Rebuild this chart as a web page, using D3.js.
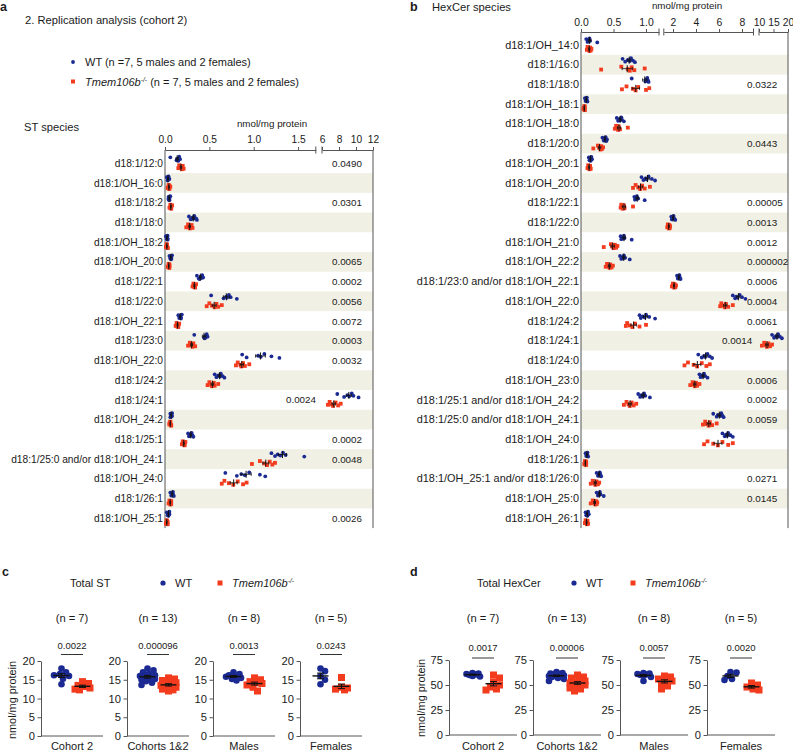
<!DOCTYPE html>
<html><head><meta charset="utf-8">
<script src="https://cdn.jsdelivr.net/npm/d3@7"></script>
<style>
body{margin:0;background:#fff}
svg{display:block}
text{font-family:"Liberation Sans",Arial,Helvetica,sans-serif;fill:#1a1a1a}
</style>
</head><body>
<svg id="fig" width="793" height="751"></svg>
<script>
// ---------------- DATA ----------------
const stSpecies = ["d18:1/12:0","d18:1/OH_16:0","d18:1/18:2","d18:1/18:0","d18:1/OH_18:2","d18:1/OH_20:0","d18:1/22:1","d18:1/22:0","d18:1/OH_22:1","d18:1/23:0","d18:1/OH_22:0","d18:1/24:2","d18:1/24:1","d18:1/OH_24:2","d18:1/25:1","d18:1/25:0 and/or d18:1/OH_24:1","d18:1/OH_24:0","d18:1/26:1","d18:1/OH_25:1"];
const stWT = [
 [0.06,0.13,0.14,0.15,0.16,0.17,0.15],
 [0.02,0.03,0.03,0.04,0.04,0.05,0.03],
 [0.04,0.04,0.05,0.05,0.06,0.04,0.05],
 [0.27,0.29,0.31,0.32,0.33,0.35,0.36],
 [0.01,0.02,0.02,0.03,0.03,0.02,0.03],
 [0.05,0.06,0.07,0.07,0.08,0.06,0.07],
 [0.36,0.38,0.40,0.41,0.42,0.43,0.39],
 [0.52,0.66,0.69,0.70,0.72,0.74,0.81],
 [0.15,0.16,0.17,0.18,0.19,0.17,0.18],
 [0.33,0.44,0.45,0.46,0.47,0.48,0.45],
 [0.87,0.92,1.05,1.08,1.12,1.20,1.29],
 [0.56,0.58,0.60,0.62,0.63,0.65,0.67],
 [7.8,8.6,9.0,9.2,9.5,9.7,10.3],
 [0.06,0.07,0.07,0.08,0.08,0.07,0.06],
 [0.26,0.27,0.28,0.29,0.30,0.31,0.32],
 [1.20,1.24,1.27,1.30,1.33,1.36,1.57],
 [0.68,0.81,0.86,0.90,0.95,1.07,1.13],
 [0.06,0.07,0.08,0.08,0.09,0.09,0.10],
 [0.02,0.03,0.04,0.04,0.05,0.05,0.04]
];
const stKO = [
 [0.15,0.16,0.18,0.19,0.20,0.21,0.17],
 [0.03,0.04,0.04,0.05,0.05,0.04,0.06],
 [0.05,0.06,0.07,0.07,0.08,0.06,0.07],
 [0.24,0.26,0.27,0.28,0.30,0.31,0.29],
 [0.01,0.02,0.02,0.03,0.02,0.03,0.02],
 [0.03,0.04,0.04,0.05,0.05,0.04,0.05],
 [0.31,0.32,0.33,0.34,0.35,0.33,0.34],
 [0.47,0.50,0.53,0.56,0.58,0.60,0.64],
 [0.12,0.13,0.14,0.15,0.16,0.14,0.15],
 [0.26,0.28,0.30,0.31,0.32,0.34,0.29],
 [0.80,0.82,0.85,0.86,0.88,0.90,0.95],
 [0.48,0.50,0.52,0.53,0.55,0.56,0.60],
 [6.7,6.9,7.1,7.3,7.6,7.9,8.2],
 [0.05,0.06,0.06,0.07,0.06,0.07,0.05],
 [0.19,0.20,0.21,0.22,0.23,0.22,0.21],
 [0.98,1.07,1.12,1.15,1.18,1.21,1.24],
 [0.64,0.67,0.72,0.77,0.82,0.88,0.92],
 [0.04,0.05,0.06,0.06,0.07,0.07,0.06],
 [0.01,0.02,0.02,0.03,0.02,0.01,0.03]
];
const stP = ["0.0490","","0.0301","","","0.0065","0.0002","0.0056","0.0072","0.0003","0.0032","","0.0024","","0.0002","0.0048","","","0.0026"];
const stTicks = [[0,0.5,1.0,1.5],[6,8,10,12]];
const stSegments = [[0,1.7],[6,12]];

const hexSpecies = ["d18:1/OH_14:0","d18:1/16:0","d18:1/18:0","d18:1/OH_18:1","d18:1/OH_18:0","d18:1/20:0","d18:1/OH_20:1","d18:1/OH_20:0","d18:1/22:1","d18:1/22:0","d18:1/OH_21:0","d18:1/OH_22:2","d18:1/23:0 and/or d18:1/OH_22:1","d18:1/OH_22:0","d18:1/24:2","d18:1/24:1","d18:1/24:0","d18:1/OH_23:0","d18:1/25:1 and/or d18:1/OH_24:2","d18:1/25:0 and/or d18:1/OH_24:1","d18:1/OH_24:0","d18:1/26:1","d18:1/OH_25:1 and/or d18:1/26:0","d18:1/OH_25:0","d18:1/OH_26:1"];
const hexWT = [
 [0.08,0.10,0.11,0.12,0.13,0.14,0.25],
 [0.64,0.68,0.72,0.75,0.77,0.80,0.83],
 [0.78,0.99,1.00,1.01,1.02,1.03,1.04],
 [0.06,0.07,0.08,0.08,0.09,0.09,0.10],
 [0.55,0.57,0.59,0.60,0.62,0.63,0.66],
 [0.33,0.35,0.36,0.37,0.38,0.40,0.39],
 [0.12,0.13,0.14,0.15,0.16,0.17,0.15],
 [0.93,0.96,0.99,1.01,1.04,1.09,1.14],
 [0.82,0.83,0.84,0.85,0.86,0.88,0.98],
 [1.85,1.90,1.95,2.00,2.05,2.10,2.20],
 [0.61,0.62,0.64,0.65,0.66,0.67,0.78],
 [0.60,0.62,0.64,0.65,0.66,0.68,0.75],
 [2.35,2.42,2.48,2.52,2.56,2.60,2.66],
 [7.2,7.4,7.5,7.6,7.8,8.0,8.3],
 [0.90,0.92,0.95,0.98,1.00,1.05,1.14],
 [14.5,15.2,15.8,16.2,16.6,17.2,17.9],
 [4.2,4.5,4.7,4.8,5.0,5.2,5.4],
 [4.3,4.4,4.5,4.6,4.7,4.8,5.0],
 [0.88,0.91,0.93,0.95,0.97,0.99,1.06],
 [5.5,5.8,5.9,6.1,6.2,6.3,6.4],
 [6.3,6.5,6.6,6.7,6.8,7.0,7.2],
 [0.07,0.08,0.09,0.09,0.10,0.10,0.11],
 [0.24,0.26,0.27,0.28,0.29,0.30,0.31],
 [0.24,0.26,0.27,0.28,0.29,0.30,0.35],
 [0.07,0.08,0.09,0.10,0.11,0.12,0.10]
];
const hexKO = [
 [0.09,0.10,0.12,0.13,0.14,0.15,0.16],
 [0.31,0.62,0.72,0.75,0.78,0.82,0.98],
 [0.63,0.70,0.80,0.84,0.88,1.00,1.05],
 [0.04,0.05,0.05,0.06,0.06,0.05,0.04],
 [0.52,0.54,0.56,0.57,0.58,0.60,0.72],
 [0.19,0.26,0.28,0.30,0.31,0.32,0.34],
 [0.10,0.11,0.12,0.13,0.14,0.15,0.13],
 [0.80,0.84,0.88,0.91,0.94,0.98,1.06],
 [0.61,0.62,0.63,0.64,0.66,0.67,0.80],
 [1.50,1.55,1.60,1.65,1.68,1.72,1.75],
 [0.35,0.46,0.48,0.50,0.52,0.54,0.56],
 [0.38,0.40,0.42,0.44,0.45,0.47,0.49],
 [1.90,1.98,2.05,2.10,2.15,2.20,2.26],
 [6.1,6.2,6.4,6.5,6.6,6.8,7.2],
 [0.69,0.71,0.75,0.79,0.83,0.90,1.00],
 [11.0,11.8,12.3,12.7,13.2,13.8,14.5],
 [3.0,3.3,3.8,4.1,4.5,4.9,5.2],
 [3.5,3.7,3.8,3.9,4.0,4.1,4.3],
 [0.66,0.70,0.73,0.75,0.78,0.81,0.85],
 [4.6,4.8,4.9,5.1,5.2,5.4,5.8],
 [4.7,5.0,5.5,5.9,6.3,6.8,7.2],
 [0.05,0.06,0.07,0.07,0.08,0.08,0.06],
 [0.15,0.18,0.20,0.22,0.24,0.26,0.28],
 [0.15,0.18,0.20,0.22,0.23,0.24,0.25],
 [0.06,0.07,0.08,0.09,0.10,0.11,0.09]
];
const hexP = ["","","0.0322","","","0.0443","","","0.00005","0.0013","0.0012","0.000002","0.0006","0.0004","0.0061","0.0014","","0.0006","0.0002","0.0059","","","0.0271","0.0145",""];
const hexTicks = [[0,0.5,1.0],[2,4,6,8],[10,15,20]];
const hexSegments = [[0,1.2],[1.2,9],[10,20]];

const totGroups = ["Cohort 2","Cohorts 1&2","Males","Females"];
const totN = ["(n = 7)","(n = 13)","(n = 8)","(n = 5)"];
const stTotP = ["0.0022","0.000096","0.0013","0.0243"];
const stTotWT = [
 [18.0,17.0,16.5,16.2,16.0,15.3,13.8],
 [18.0,17.5,17.0,16.6,16.2,16.0,15.8,15.5,15.2,15.0,14.6,14.2,13.6],
 [17.0,16.5,16.2,16.0,15.8,15.5,15.2,14.8],
 [18.0,17.3,16.0,15.0,13.8]
];
const stTotKO = [
 [14.5,14.0,13.5,13.2,12.8,12.5,12.3],
 [15.5,15.2,14.8,14.5,14.2,13.8,13.5,13.2,13.0,12.8,12.5,12.3,12.0],
 [15.5,15.0,14.5,14.2,14.0,13.6,13.0,12.0],
 [15.6,13.0,12.8,12.5,12.3]
];
const stTotTicks = [0,5,10,15,20];
const hexTotP = ["0.0017","0.00006","0.0057","0.0020"];
const hexTotWT = [
 [62,61.5,61,60.5,60,59,58.5],
 [63,62,61.5,61,60.5,60,59.5,59,58.5,58,57,56,54],
 [62,61.5,61,60.5,60,59.5,58,54],
 [63,62.5,59,56,55]
];
const hexTotKO = [
 [60,57,53,50,48,46,45],
 [60,58,57,55,54,53,52,51,50,49,47,46,44],
 [59,58,56,55,54,52,49,46],
 [52,50,48,46,45]
];
const hexTotTicks = [0,25,50,75];

// ---------------- STYLE ----------------
const WT_COL = "#1b2a92", KO_COL = "#f33b1e", BAND = "#f1f0e4", AX = "#555", BAR = "#111";
const FONT = '"Liberation Sans",Arial,Helvetica,sans-serif';
const svg = d3.select("#fig");

function txt(x, y, s, size, opts = {}) {
  const t = svg.append("text").attr("x", x).attr("y", y).attr("font-size", size).text(s);
  if (opts.anchor) t.attr("text-anchor", opts.anchor);
  if (opts.weight) t.attr("font-weight", opts.weight);
  if (opts.style) t.attr("font-style", opts.style);
  return t;
}
function koLabel(x, y, size, rest) {
  const t = svg.append("text").attr("x", x).attr("y", y).attr("font-size", size);
  t.append("tspan").attr("font-style", "italic").text("Tmem106b");
  t.append("tspan").attr("font-style", "italic").attr("font-size", size * 0.62).attr("dy", -size * 0.4).text("-/-");
  if (rest) t.append("tspan").attr("dy", size * 0.4).text(rest);
  return t;
}

function brokenScale(domains, ranges) {
  const scales = domains.map((d, i) => d3.scaleLinear().domain(d).range(ranges[i]));
  const f = v => {
    for (let i = 0; i < scales.length; i++) {
      if (v <= scales[i].domain()[1] || i === scales.length - 1) return scales[i](v);
    }
  };
  f.scales = scales;
  return f;
}

// ---------------- SPECIES PANEL ----------------
function speciesPanel(o) {
  const x = o.x;
  const leftX = x.scales[0].range()[0];
  const rightX = x.scales[x.scales.length - 1].range()[1];
  const y = d3.scaleBand().domain(o.species).range([o.yTop, o.yBottom]);
  const g = svg.append("g");
  g.selectAll("rect.band").data(o.species.filter((d, i) => i % 2 === 1)).join("rect")
    .attr("x", leftX).attr("y", d => y(d)).attr("width", rightX - leftX).attr("height", y.bandwidth())
    .attr("fill", BAND);
  g.append("line").attr("x1", leftX).attr("x2", leftX).attr("y1", o.axisY).attr("y2", o.yBottom).attr("stroke", AX);
  g.append("line").attr("x1", rightX).attr("x2", rightX).attr("y1", o.axisY).attr("y2", o.yBottom).attr("stroke", AX);
  x.scales.forEach((s, i) => {
    const ax = d3.axisTop(s).tickValues(o.ticks[i]).tickSize(3).tickPadding(o.tickPad).tickSizeOuter(0)
      .tickFormat(i === 0 ? d3.format(".1f") : d3.format("d"));
    const ag = g.append("g").attr("transform", `translate(0,${o.axisY})`).call(ax);
    ag.select(".domain").attr("stroke", AX);
    ag.selectAll(".tick line").attr("stroke", AX);
    ag.selectAll("text").attr("font-size", o.tickFont).attr("font-family", FONT).attr("fill", "#1a1a1a");
    const [r0, r1] = s.range();
    if (i > 0) g.append("line").attr("x1", r0).attr("x2", r0).attr("y1", o.axisY - 3.5).attr("y2", o.axisY + 3.5).attr("stroke", AX);
    if (i < x.scales.length - 1) g.append("line").attr("x1", r1).attr("x2", r1).attr("y1", o.axisY - 3.5).attr("y2", o.axisY + 3.5).attr("stroke", AX);
  });
  g.append("text").attr("x", o.titleX).attr("y", o.titleY).attr("text-anchor", "middle")
    .attr("font-size", 9.8).text("nmol/mg protein");

  const JIT = [-1.4, 1.5, -0.2, 0.9, -2.0, 0.4, 2.0];
  o.species.forEach((sp, i) => {
    const cy = y(sp) + y.bandwidth() / 2;
    g.append("text").attr("x", leftX - 2).attr("y", cy + 3.6).attr("text-anchor", "end")
      .attr("font-size", o.labelFont).text(sp);
    const wy = cy - 4.5, ky = cy + 4;
    g.selectAll(null).data(o.wt[i]).join("circle")
      .attr("cx", d => x(d)).attr("cy", (d, j) => wy + JIT[j % 7]).attr("r", 1.9).attr("fill", WT_COL);
    g.selectAll(null).data(o.ko[i]).join("rect")
      .attr("x", d => x(d) - 1.9).attr("y", (d, j) => ky + JIT[(j + 3) % 7] - 1.9)
      .attr("width", 3.8).attr("height", 3.8).attr("fill", KO_COL);
    [[o.wt[i], wy], [o.ko[i], ky]].forEach(([vals, gy]) => {
      const m = d3.mean(vals), se = d3.deviation(vals) / Math.sqrt(vals.length);
      const xa = x(m - se), xb = x(m + se), xm = x(m);
      g.append("line").attr("x1", xa).attr("x2", xb).attr("y1", gy).attr("y2", gy).attr("stroke", BAR).attr("stroke-width", 0.8);
      g.append("line").attr("x1", xa).attr("x2", xa).attr("y1", gy - 1.6).attr("y2", gy + 1.6).attr("stroke", BAR).attr("stroke-width", 0.8);
      g.append("line").attr("x1", xb).attr("x2", xb).attr("y1", gy - 1.6).attr("y2", gy + 1.6).attr("stroke", BAR).attr("stroke-width", 0.8);
      g.append("line").attr("x1", xm).attr("x2", xm).attr("y1", gy - 3.5).attr("y2", gy + 3.5).attr("stroke", BAR).attr("stroke-width", 1);
    });
    if (o.pvals[i]) {
      g.append("text").attr("x", i === o.pSpecialIdx ? o.pXSpecial : o.pX).attr("y", cy + 3.5)
        .attr("font-size", o.pFont).text(o.pvals[i]);
    }
  });
}

// ---------------- TOTAL PANEL ----------------
// compact beeswarm: horizontal offsets limited to +-maxW, overlap allowed
function swarm(vals, yS, minD, maxW) {
  const placed = [];
  const cands = [0];
  for (let k = 1; k * 1.5 <= maxW; k++) cands.push(k * 1.5, -k * 1.5);
  return vals.map(v => {
    const yy = yS(v);
    let best = null, bestD = -1;
    for (const dx of cands) {
      const dmin = placed.length ? d3.min(placed, p => Math.hypot(p[0] - dx, p[1] - yy)) : Infinity;
      if (dmin >= minD) { best = dx; break; }
      if (dmin > bestD) { bestD = dmin; best = dx; }
    }
    placed.push([best, yy]);
    return [best, yy];
  });
}
function totalPanel(o) {
  const g = svg.append("g");
  const y = d3.scaleLinear().domain(o.domain).range([o.y0, o.y1]);
  o.axisXs.forEach((ax, i) => {
    const c = ax + o.half;
    const ag = g.append("g").attr("transform", `translate(${ax},0)`)
      .call(d3.axisLeft(y).tickValues(o.ticks).tickSize(3.5).tickPadding(2.5).tickSizeOuter(0));
    ag.select(".domain").attr("stroke", AX);
    ag.selectAll(".tick line").attr("stroke", AX);
    ag.selectAll("text").attr("font-size", 11.2).attr("font-family", FONT).attr("fill", "#1a1a1a");
    g.append("line").attr("x1", ax).attr("x2", ax + 2 * o.half).attr("y1", o.y0).attr("y2", o.y0).attr("stroke", AX);
    g.append("text").attr("x", c).attr("y", o.labelY).attr("text-anchor", "middle").attr("font-size", 11).text(o.groups[i]);
    g.append("text").attr("x", c).attr("y", o.nY).attr("text-anchor", "middle").attr("font-size", 11.2).text(o.ns[i]);
    g.append("text").attr("x", c).attr("y", o.pY).attr("text-anchor", "middle").attr("font-size", 9.5).text(o.ps[i]);
    g.append("line").attr("x1", c - 11).attr("x2", c + 11).attr("y1", o.lineY).attr("y2", o.lineY).attr("stroke", "#333").attr("stroke-width", 1);
    const wx = c - o.sep, kx = c + o.sep;
    const ws = swarm(o.wt[i], y, 5.0, 7.5);
    const ks = swarm(o.ko[i], y, 5.5, 7.5);
    g.selectAll(null).data(ws).join("circle").attr("cx", d => wx + d[0]).attr("cy", d => d[1]).attr("r", 3.3).attr("fill", WT_COL);
    g.selectAll(null).data(ks).join("rect").attr("x", d => kx + d[0] - 3.5).attr("y", d => d[1] - 3.5)
      .attr("width", 7).attr("height", 7).attr("fill", KO_COL);
    [[o.wt[i], wx], [o.ko[i], kx]].forEach(([vals, gx]) => {
      const m = d3.mean(vals), se = d3.deviation(vals) / Math.sqrt(vals.length);
      g.append("line").attr("x1", gx - 8).attr("x2", gx + 8).attr("y1", y(m)).attr("y2", y(m)).attr("stroke", BAR).attr("stroke-width", 1.4);
      g.append("line").attr("x1", gx).attr("x2", gx).attr("y1", y(m - se)).attr("y2", y(m + se)).attr("stroke", BAR).attr("stroke-width", 1);
      [m - se, m + se].forEach(v => g.append("line").attr("x1", gx - 3.5).attr("x2", gx + 3.5).attr("y1", y(v)).attr("y2", y(v)).attr("stroke", BAR).attr("stroke-width", 1));
    });
  });
  g.append("text").attr("transform", `translate(${o.yLabX},${o.yLabY}) rotate(-90)`).attr("text-anchor", "middle")
    .attr("font-size", 10.9).text("nmol/mg protein");
}

// ---------------- PANEL A ----------------
txt(0, 11, "a", 12.5, { weight: "bold" });
txt(25, 24, "2. Replication analysis (cohort 2)", 11.2);
svg.append("circle").attr("cx", 73).attr("cy", 62).attr("r", 1.9).attr("fill", WT_COL);
txt(85, 66, "WT (n =7, 5 males and 2 females)", 11);
svg.append("rect").attr("x", 71).attr("y", 79.5).attr("width", 4).attr("height", 4).attr("fill", KO_COL);
koLabel(85, 86, 11, " (n = 7, 5 males and 2 females)");
txt(24, 131, "ST species", 11.2);

speciesPanel({
  species: stSpecies, wt: stWT, ko: stKO, pvals: stP, pSpecialIdx: 12,
  x: brokenScale(stSegments, [[165, 315.8], [322, 373]]),
  ticks: stTicks, axisY: 150, yTop: 153.4, yBottom: 528.1,
  tickFont: 10.2, tickPad: 4, labelFont: 10.2, pFont: 9.8,
  pX: 332, pXSpecial: 286, titleX: 272, titleY: 126.5
});

// ---------------- PANEL B ----------------
txt(410, 11, "b", 12.5, { weight: "bold" });
txt(432, 11, "HexCer species", 11.2);
speciesPanel({
  species: hexSpecies, wt: hexWT, ko: hexKO, pvals: hexP, pSpecialIdx: 15,
  x: brokenScale(hexSegments, [[581, 659], [663.8, 753.5], [759, 788]]),
  ticks: hexTicks, axisY: 32, yTop: 35.1, yBottom: 528.1,
  tickFont: 10.4, tickPad: 3.4, labelFont: 10.9, pFont: 9.9,
  pX: 747, pXSpecial: 722, titleX: 687, titleY: 8.5
});

// ---------------- PANEL C ----------------
txt(2, 576, "c", 12.5, { weight: "bold" });
txt(70, 587, "Total ST", 11);
svg.append("circle").attr("cx", 163).attr("cy", 583).attr("r", 2.6).attr("fill", WT_COL);
txt(175, 587, "WT", 11);
svg.append("rect").attr("x", 217.5).attr("y", 580.5).attr("width", 5).attr("height", 5).attr("fill", KO_COL);
koLabel(232, 587, 11);
totalPanel({
  groups: totGroups, ns: totN, ps: stTotP, wt: stTotWT, ko: stTotKO,
  domain: [0, 20], y0: 736, y1: 661, ticks: stTotTicks,
  axisXs: [41, 127, 213, 300], half: 31, sep: 10.5,
  labelY: 750, nY: 622, pY: 648.5, lineY: 654.5, yLabX: 16, yLabY: 700
});

// ---------------- PANEL D ----------------
txt(410, 576, "d", 12.5, { weight: "bold" });
txt(477, 587, "Total HexCer", 11);
svg.append("circle").attr("cx", 574).attr("cy", 583).attr("r", 2.6).attr("fill", WT_COL);
txt(586, 587, "WT", 11);
svg.append("rect").attr("x", 630.5).attr("y", 580.5).attr("width", 5).attr("height", 5).attr("fill", KO_COL);
koLabel(645, 587, 11);
totalPanel({
  groups: totGroups, ns: totN, ps: hexTotP, wt: hexTotWT, ko: hexTotKO,
  domain: [0, 75], y0: 735, y1: 660, ticks: hexTotTicks,
  axisXs: [449, 533, 620, 707], half: 34, sep: 10.5,
  labelY: 750, nY: 622, pY: 651, lineY: 658, yLabX: 425, yLabY: 698
});
</script>
</body></html>
